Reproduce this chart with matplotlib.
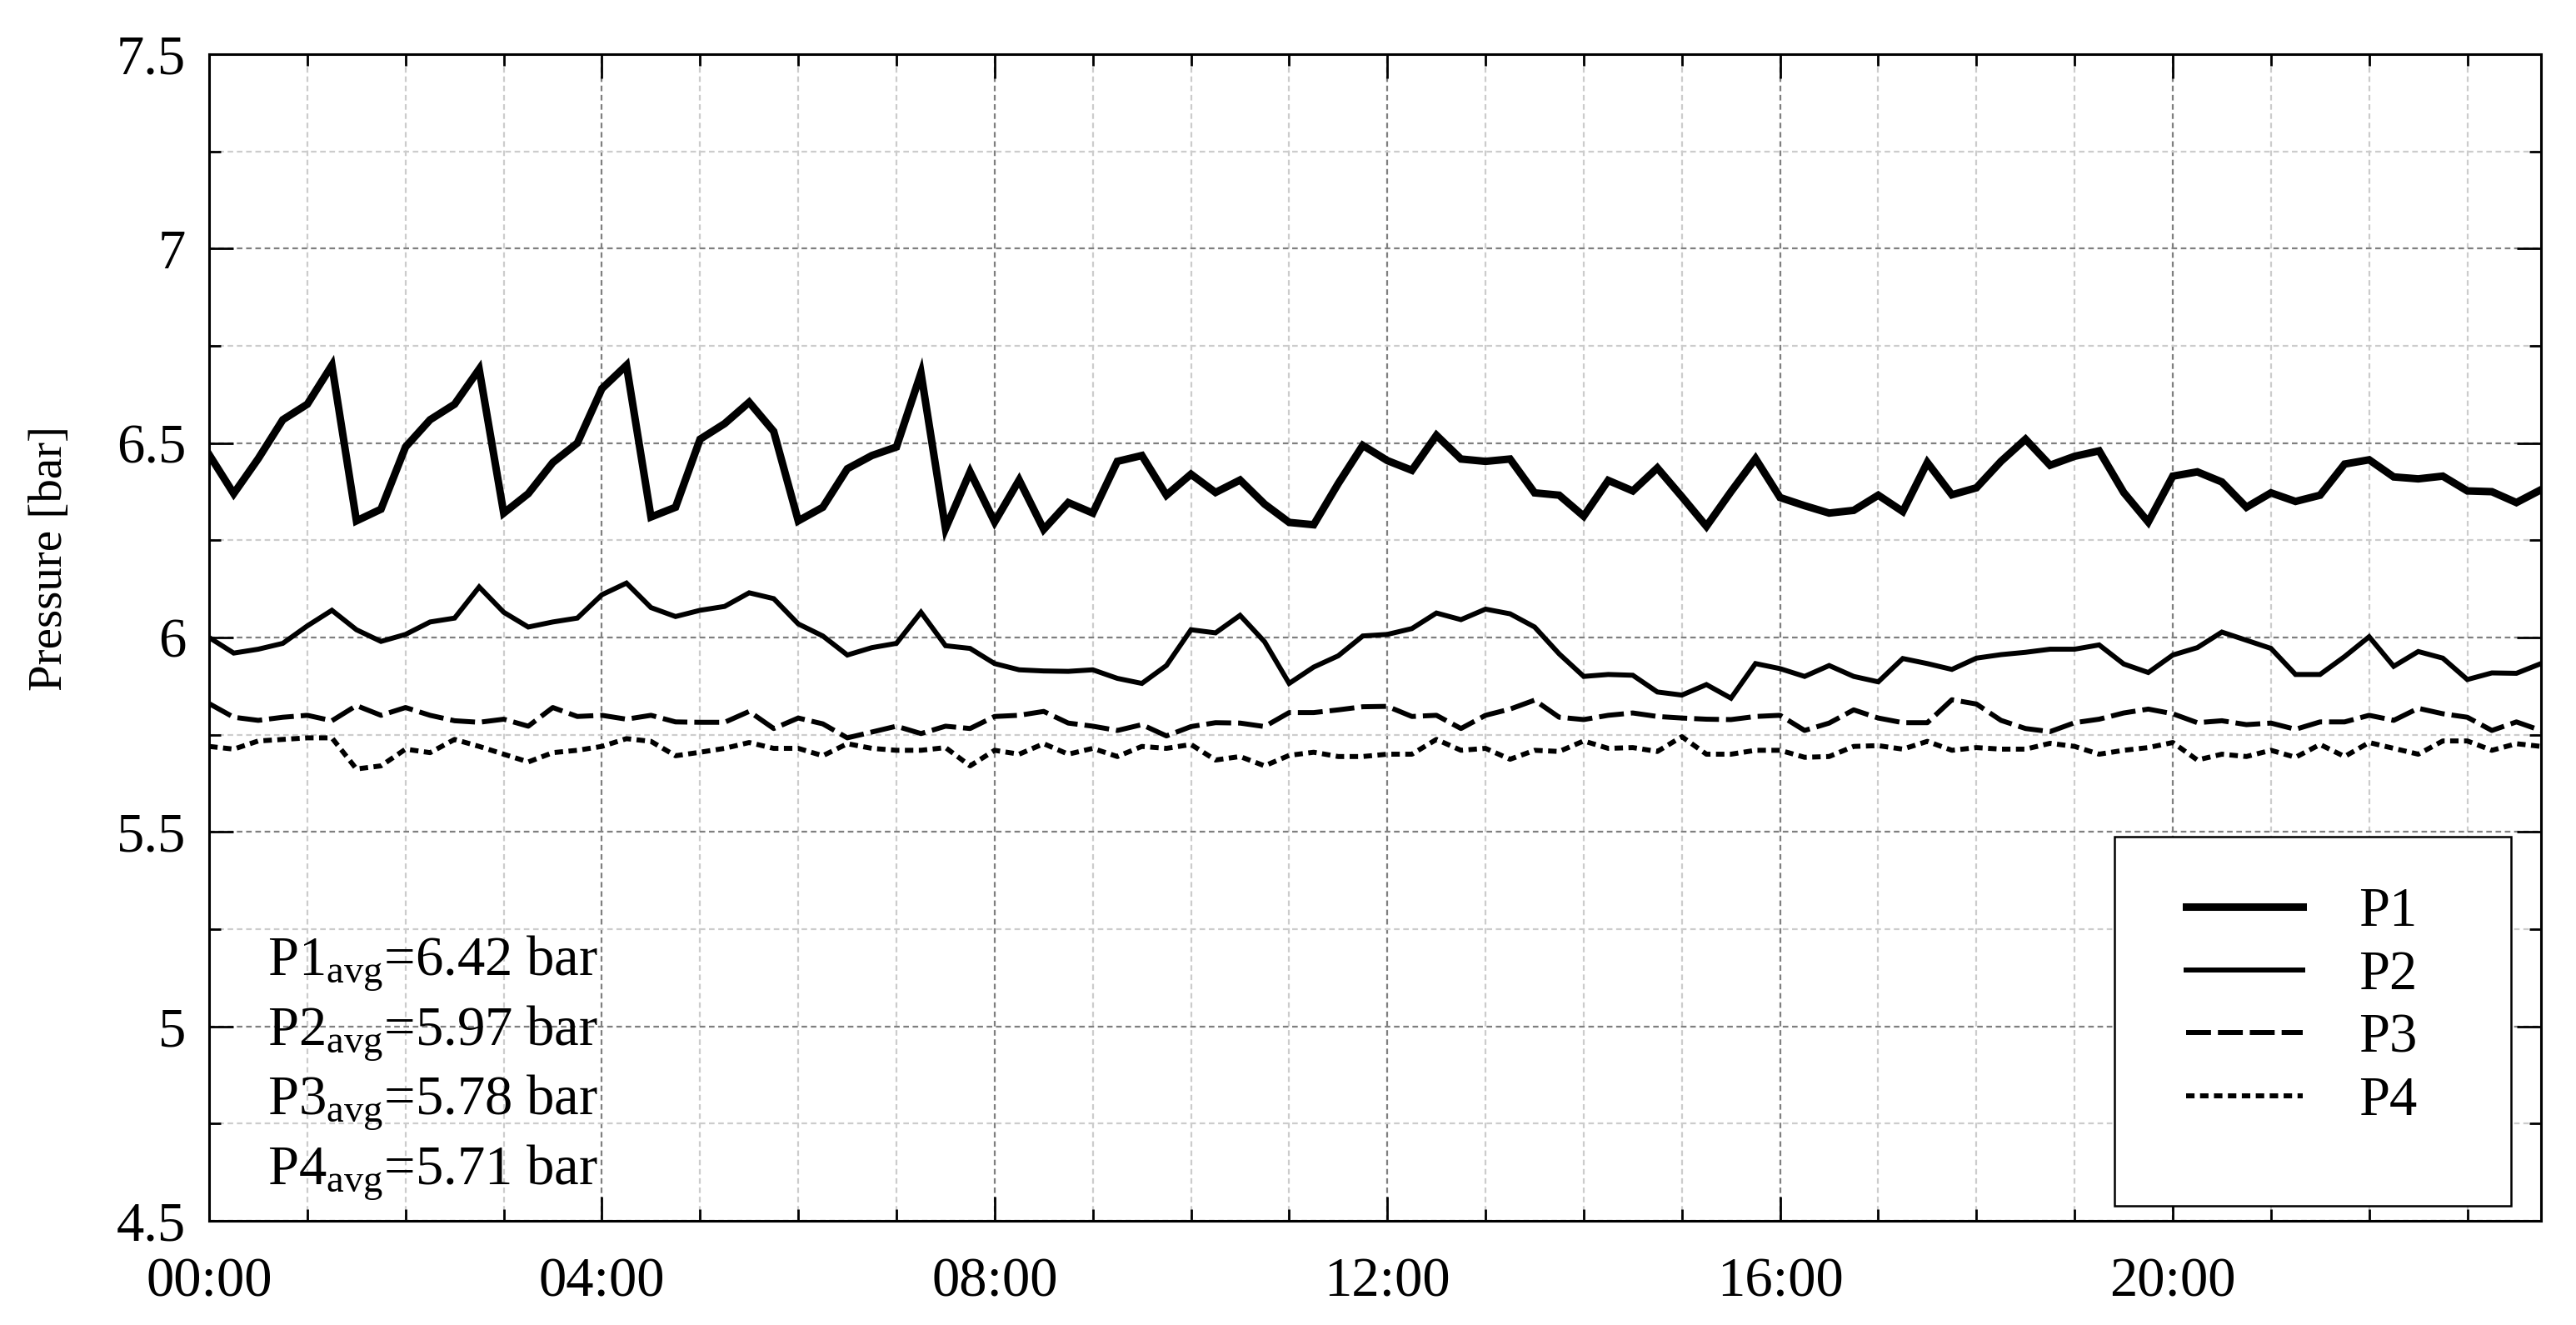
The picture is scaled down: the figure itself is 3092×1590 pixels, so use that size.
import numpy as np
import matplotlib
matplotlib.use("Agg")
import matplotlib.pyplot as plt
from matplotlib.patches import Rectangle
from matplotlib.ticker import MultipleLocator

plt.rcParams['font.family'] = ['Liberation Serif', 'DejaVu Serif']
plt.rcParams['mathtext.fontset'] = 'custom'
plt.rcParams['mathtext.rm'] = 'Liberation Serif'
plt.rcParams['mathtext.it'] = 'Liberation Serif:italic'

# pressure readings every 15 min, 00:00 .. 23:45
p1 = [6.47, 6.37, 6.46, 6.56, 6.60, 6.70, 6.30, 6.33, 6.49, 6.56, 6.60, 6.69, 6.32, 6.37, 6.45, 6.50, 6.64,
      6.70, 6.31, 6.335, 6.51, 6.55, 6.605, 6.53, 6.30, 6.335, 6.434, 6.468, 6.49, 6.68, 6.28, 6.426, 6.297,
      6.405, 6.278, 6.347, 6.32, 6.453, 6.468, 6.366, 6.42, 6.373, 6.405, 6.343, 6.296, 6.29, 6.396, 6.494, 6.455,
      6.43, 6.52, 6.459, 6.453, 6.459, 6.372, 6.366, 6.312, 6.404, 6.377, 6.436, 6.362, 6.286, 6.375, 6.46, 6.36,
      6.339, 6.32, 6.327, 6.366, 6.324, 6.45, 6.367, 6.385, 6.453, 6.51, 6.443, 6.466, 6.48, 6.373, 6.297, 6.415,
      6.426, 6.40, 6.335, 6.372, 6.35, 6.366, 6.446, 6.457, 6.413, 6.408, 6.415, 6.377, 6.375, 6.347, 6.38]
p2 = [6.00, 5.96, 5.97, 5.985, 6.03, 6.07, 6.02, 5.99, 6.008, 6.04, 6.05, 6.13, 6.065, 6.027, 6.04, 6.05, 6.11,
      6.14, 6.077, 6.054, 6.07, 6.08, 6.115, 6.10, 6.035, 6.004, 5.955, 5.974, 5.985, 6.065, 5.979, 5.972, 5.933,
      5.917, 5.914, 5.913, 5.917, 5.895, 5.882, 5.928, 6.02, 6.012, 6.057, 5.989, 5.882, 5.924, 5.953, 6.004, 6.008,
      6.023, 6.063, 6.046, 6.073, 6.061, 6.027, 5.958, 5.90, 5.905, 5.903, 5.86, 5.852, 5.879, 5.844, 5.933, 5.92,
      5.90, 5.928, 5.90, 5.886, 5.946, 5.933, 5.918, 5.947, 5.956, 5.962, 5.97, 5.97, 5.981, 5.932, 5.91, 5.955,
      5.974, 6.014, 5.993, 5.972, 5.905, 5.905, 5.951, 6.002, 5.926, 5.964, 5.947, 5.892, 5.909, 5.908, 5.933]
p3 = [5.83, 5.795, 5.787, 5.795, 5.80, 5.786, 5.825, 5.80, 5.82, 5.80, 5.786, 5.782, 5.79, 5.772, 5.82, 5.797, 5.80,
      5.79, 5.80, 5.783, 5.782, 5.782, 5.81, 5.766, 5.793, 5.778, 5.742, 5.757, 5.772, 5.753, 5.772, 5.766, 5.797,
      5.80, 5.81, 5.78, 5.772, 5.761, 5.776, 5.747, 5.771, 5.781, 5.78, 5.771, 5.807, 5.807, 5.814, 5.822, 5.823,
      5.797, 5.80, 5.766, 5.80, 5.816, 5.839, 5.795, 5.789, 5.80, 5.806, 5.797, 5.793, 5.79, 5.789, 5.797, 5.80,
      5.761, 5.78, 5.814, 5.793, 5.781, 5.781, 5.84, 5.829, 5.787, 5.766, 5.758, 5.781, 5.79, 5.806, 5.816, 5.804,
      5.781, 5.786, 5.776, 5.78, 5.764, 5.783, 5.783, 5.80, 5.787, 5.818, 5.804, 5.795, 5.761, 5.783, 5.761]
p4 = [5.72, 5.713, 5.734, 5.738, 5.742, 5.742, 5.662, 5.67, 5.713, 5.704, 5.738, 5.72, 5.70, 5.68, 5.704, 5.71, 5.72,
      5.74, 5.733, 5.696, 5.705, 5.715, 5.73, 5.715, 5.715, 5.696, 5.727, 5.715, 5.71, 5.71, 5.717, 5.67, 5.71,
      5.70, 5.727, 5.70, 5.715, 5.694, 5.72, 5.715, 5.725, 5.685, 5.694, 5.67, 5.697, 5.705, 5.694, 5.694, 5.70,
      5.70, 5.738, 5.71, 5.715, 5.687, 5.71, 5.707, 5.734, 5.715, 5.717, 5.707, 5.745, 5.70, 5.70, 5.71, 5.71,
      5.692, 5.694, 5.72, 5.722, 5.713, 5.733, 5.71, 5.717, 5.713, 5.713, 5.728, 5.72, 5.70, 5.71, 5.717, 5.73,
      5.685, 5.70, 5.694, 5.71, 5.692, 5.725, 5.694, 5.73, 5.715, 5.70, 5.734, 5.734, 5.71, 5.727, 5.72]

labels = ['P1', 'P2', 'P3', 'P4']
avg_values = ['6.42', '5.97', '5.78', '5.71']
xtick_hours = [0, 4, 8, 12, 16, 20]
xtick_labels = ['00:00', '04:00', '08:00', '12:00', '16:00', '20:00']

hours = np.arange(len(p1)) * 0.25

fs = 48
fig = plt.figure(figsize=(30.92, 15.9), dpi=100)
ax = fig.add_axes([0.0812, 0.0786, 0.9052, 0.8805])

l1, = ax.plot(hours, p1, color='black', lw=6.5, solid_joinstyle='miter', zorder=4)
l2, = ax.plot(hours, p2, color='black', lw=4.3, solid_joinstyle='miter', zorder=4)
l3, = ax.plot(hours, p3, color='black', lw=4.3, dashes=(5, 1.4), zorder=4)
l4, = ax.plot(hours, p4, color='black', lw=4.3, dashes=(1.7, 1.1), zorder=4)

ax.set_xlim(0, 23.75)
ax.set_ylim(4.5, 7.5)
ax.set_xticks(xtick_hours)
ax.set_xticklabels(xtick_labels)
ax.xaxis.set_minor_locator(MultipleLocator(1))
ax.yaxis.set_major_locator(MultipleLocator(0.5))
ax.yaxis.set_minor_locator(MultipleLocator(0.25))
ax.yaxis.set_major_formatter(plt.FuncFormatter(lambda v, p: f'{v:g}'))

ax.set_axisbelow(True)
ax.grid(which='major', color='#7f7f7f', linestyle=(0, (3, 2)), linewidth=1.6)
ax.grid(which='minor', color='#cccccc', linestyle=(0, (3, 2)), linewidth=1.6)

ax.tick_params(which='both', direction='in', top=True, right=True, labelsize=fs, width=2)
ax.tick_params(which='major', length=21)
ax.tick_params(which='minor', length=10)
ax.tick_params(axis='x', pad=31)
ax.tick_params(axis='y', pad=20)
for s in ax.spines.values():
    s.set_linewidth(2.2)

ax.set_ylabel('Pressure [bar]', fontsize=41)
ax.yaxis.set_label_coords(-0.059, 0.568)

# average values
for i, (lab, val) in enumerate(zip(labels, avg_values)):
    ax.text(0.025, 0.21 - i * 0.0597, lab + r'$_{\mathrm{avg}}$=' + val + ' bar',
            transform=ax.transAxes, fontsize=fs, va='baseline', ha='left', zorder=6)

# legend with a fixed frame
box = Rectangle((0.817, 0.013), 0.17, 0.316, transform=ax.transAxes,
                facecolor='white', edgecolor='black', lw=1.8, zorder=5)
ax.add_patch(box)
leg = ax.legend([l1, l2, l3, l4], labels, loc='upper left', bbox_to_anchor=(0.836, 0.31),
                frameon=False, fontsize=fs, borderpad=0, handlelength=2.1,
                handletextpad=1.0, labelspacing=0.22)
leg.set_zorder(6)

fig.savefig('out.png', dpi=100)
